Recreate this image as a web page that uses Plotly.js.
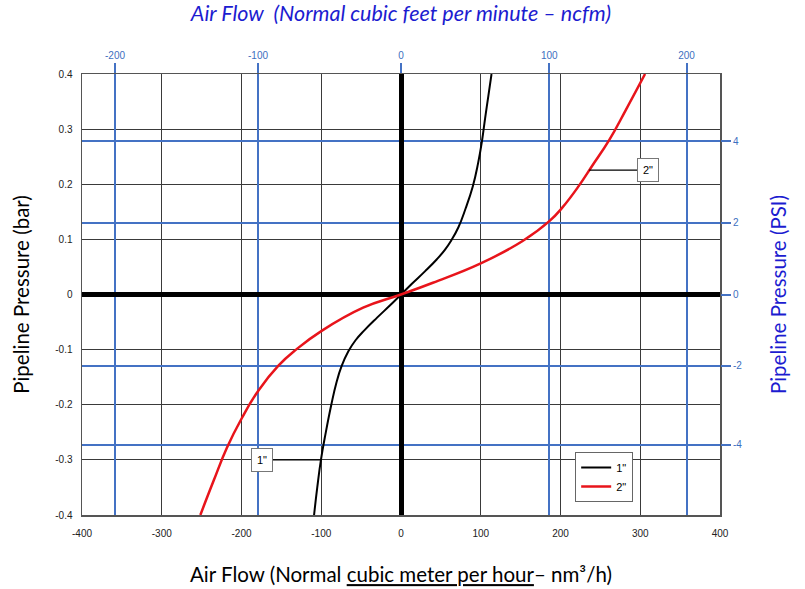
<!DOCTYPE html>
<html>
<head>
<meta charset="utf-8">
<script src="https://cdn.plot.ly/plotly-3.0.1.min.js"></script>
<style>html,body{margin:0;padding:0;background:#fff}#chart{width:805px;height:589px}</style>
</head>
<body>
<div id="chart"></div>
<script>
// 1" line: flow (nm3/h) vs pressure (bar)
const flow1 = [-109, -105, -100.4, -94.3, -87.4, -81, -74.5, -66, -57, -46, -30, -14, 0, 14, 30, 45, 55, 63, 72, 81, 90, 96.5, 101.5, 105.5, 109.5, 113.5];
const pres1 = [-0.4, -0.35, -0.3, -0.25, -0.2, -0.16, -0.13, -0.103, -0.083, -0.065, -0.042, -0.02, 0, 0.02, 0.042, 0.064, 0.081, 0.098, 0.122, 0.156, 0.196, 0.237, 0.278, 0.32, 0.36, 0.4];
// 2" line
const flow2 = [-251.6, -235, -218.3, -199.5, -178.7, -153.7, -130.8, -99.5, -47.5, 0, 40, 100, 152.5, 186, 202.5, 223, 240, 261, 282, 306];
const pres2 = [-0.4, -0.338, -0.278, -0.224, -0.174, -0.129, -0.0991, -0.066, -0.024, 0, 0.0213, 0.0564, 0.097, 0.133, 0.158, 0.197, 0.234, 0.28, 0.335, 0.4];

// primary axis ticks
const flowTicks = [-400, -300, -200, -100, 0, 100, 200, 300, 400];
const flowLabels = ['-400', '-300', '-200', '-100', '0', '100', '200', '300', '400'];
const barTicks = [-0.4, -0.3, -0.2, -0.1, 0, 0.1, 0.2, 0.3, 0.4];
const barLabels = ['-0.4', '-0.3', '-0.2', '-0.1', '0', '0.1', '0.2', '0.3', '0.4'];

// secondary scales (positions as drawn on the chart, in primary units)
const cfmLabels = ['-200', '-100', '0', '100', '200'];
const cfmPos = [-358.6, -179.3, 0, 185.9, 358];
const psiLabels = ['4', '2', '0', '-2', '-4'];
const psiPos = [0.2784, 0.1301, 0, -0.1295, -0.2727];

const seriesNames = ['1"', '2"'];

const blue = '#4472C4';
const tickFont = {family: 'Liberation Sans Narrow, Liberation Sans, Arial', size: 10, color: '#222'};
const titleFont = {family: 'Lato, Open Sans, sans-serif', size: 20.5, color: '#000'};
const blueTitleFont = {family: 'Lato, Open Sans, sans-serif', size: 20.5, color: '#1c1cd0'};
const topTitleFont = {family: 'Lato, Open Sans, sans-serif', size: 21.5, color: '#1c1cd0'};
const blueTickFont = {family: 'Liberation Sans Narrow, Liberation Sans, Arial', size: 10, color: '#3d6fc0'};

const traces = [
  {x: flow1, y: pres1, name: seriesNames[0], mode: 'lines', line: {color: '#000', width: 2, shape: 'spline', smoothing: 1.3}, xaxis: 'x', yaxis: 'y'},
  {x: flow2, y: pres2, name: seriesNames[1], mode: 'lines', line: {color: '#e8141b', width: 2.5, shape: 'spline', smoothing: 1.3}, xaxis: 'x', yaxis: 'y'},
  // invisible trace to activate secondary axes
  {x: [0], y: [0], xaxis: 'x2', yaxis: 'y2', mode: 'markers', marker: {opacity: 0}, showlegend: false, hoverinfo: 'skip'}
];

const labelFont = {family: 'Liberation Sans, Arial', size: 11, color: '#000'};

const layout = {
  width: 805, height: 589,
  margin: {l: 82, r: 85, t: 74, b: 74},
  paper_bgcolor: '#fff', plot_bgcolor: '#fff',
  showlegend: true,
  legend: {x: 0.773, y: 0.143, xanchor: 'left', yanchor: 'top', bgcolor: '#fff', bordercolor: '#666', borderwidth: 1,
    font: labelFont, tracegroupgap: 8, itemwidth: 30},
  xaxis: {
    range: [-400, 400], tickmode: 'array', tickvals: flowTicks, ticktext: flowLabels,
    showgrid: true, gridcolor: '#3a3a3a', gridwidth: 1,
    zeroline: true, zerolinecolor: '#000', zerolinewidth: 5,
    showline: true, linecolor: '#555', linewidth: 1.5, mirror: true,
    ticks: '', tickfont: tickFont, ticklabelstandoff: 8,
    title: {text: 'Air Flow (Normal <u>cubic meter per hour</u>– nm³/h)', font: titleFont, standoff: 30}
  },
  yaxis: {
    range: [-0.4, 0.4], tickmode: 'array', tickvals: barTicks, ticktext: barLabels,
    showgrid: true, gridcolor: '#3a3a3a', gridwidth: 1,
    zeroline: true, zerolinecolor: '#000', zerolinewidth: 5,
    showline: true, linecolor: '#555', linewidth: 1.5, mirror: true,
    ticks: '', tickfont: tickFont, ticklabelstandoff: 6,
    title: {text: 'Pipeline Pressure (bar)', font: titleFont, standoff: 20}
  },
  xaxis2: {
    overlaying: 'x', side: 'top',
    range: [-400, 400], tickmode: 'array', tickvals: cfmPos, ticktext: cfmLabels,
    showgrid: true, gridcolor: blue, gridwidth: 2, zeroline: false,
    ticks: 'outside', ticklen: 10, tickcolor: blue, tickwidth: 2,
    tickfont: blueTickFont,
    title: {text: '<i>Air Flow  (Normal cubic feet per minute – ncfm)</i>', font: topTitleFont, standoff: 22}
  },
  yaxis2: {
    overlaying: 'y', side: 'right',
    range: [-0.4, 0.4], tickmode: 'array', tickvals: psiPos, ticktext: psiLabels,
    showgrid: true, gridcolor: blue, gridwidth: 2, zeroline: false,
    ticks: 'outside', ticklen: 10, tickcolor: blue, tickwidth: 2,
    tickfont: blueTickFont,
    title: {text: 'Pipeline Pressure (PSI)', font: blueTitleFont, standoff: 30}
  },
  annotations: [
    // leader lines from label boxes to the curves
    {x: 236, y: 0.2258, xref: 'x', yref: 'y', text: '', showarrow: true, arrowhead: 0, arrowwidth: 1.3, arrowcolor: '#000',
      axref: 'x', ayref: 'y', ax: 309.6, ay: 0.2258},
    {x: -100.4, y: -0.3, xref: 'x', yref: 'y', text: '', showarrow: true, arrowhead: 0, arrowwidth: 1.3, arrowcolor: '#000',
      axref: 'x', ayref: 'y', ax: -174, ay: -0.3},
    {x: 309.6, y: 0.2258, xref: 'x', yref: 'y', text: seriesNames[1], showarrow: false, bgcolor: '#fff', bordercolor: '#777', borderwidth: 1, borderpad: 5, font: labelFont},
    {x: -174, y: -0.3, xref: 'x', yref: 'y', text: seriesNames[0], showarrow: false, bgcolor: '#fff', bordercolor: '#777', borderwidth: 1, borderpad: 5, font: labelFont}
  ]
};

Plotly.newPlot('chart', traces, layout, {staticPlot: true});
</script>
</body>
</html>
